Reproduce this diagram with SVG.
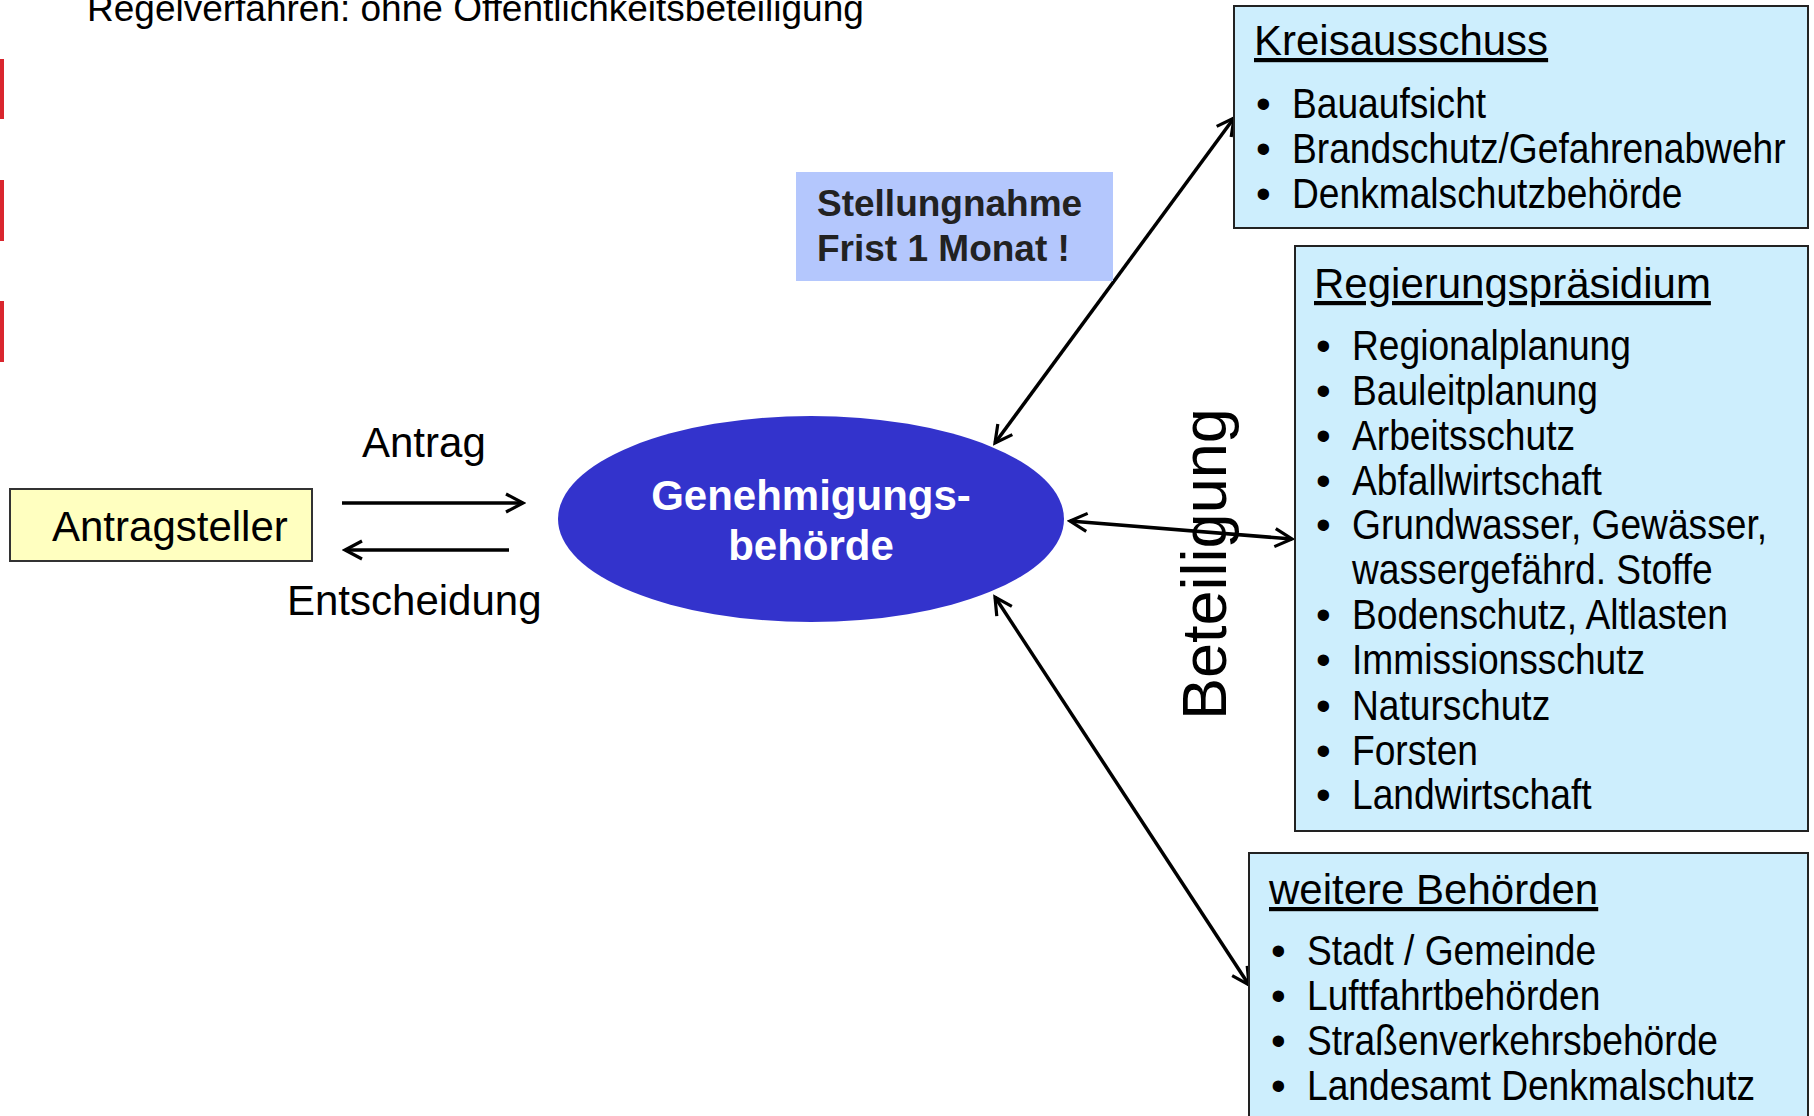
<svg xmlns="http://www.w3.org/2000/svg" width="1814" height="1116" viewBox="0 0 1814 1116">
<defs>
<style>
text{font-family:"Liberation Sans",Arial,sans-serif;fill:#000}
.t42{font-size:42px}
.box{fill:#cdeefd;stroke:#222;stroke-width:2}
.hd{font-size:42px;text-decoration:underline}
.con{stroke:#000;stroke-width:3.5;fill:none}
.red{fill:#d9262e}
</style>
<marker id="ah" viewBox="0 0 24 24" refX="21" refY="12" markerWidth="24" markerHeight="24" markerUnits="userSpaceOnUse" orient="auto-start-reverse">
<path d="M4,3 L21,12 L4,21" fill="none" stroke="#000" stroke-width="3.2"/>
</marker>
</defs>
<rect width="1814" height="1116" fill="#fff"/>
<text x="87" y="21" style="font-size:37px">Regelverfahren: ohne Öffentlichkeitsbeteiligung</text>
<rect class="red" x="0" y="59" width="4" height="60"/>
<rect class="red" x="0" y="180" width="4" height="61"/>
<rect class="red" x="0" y="301" width="4" height="61"/>

<g id="connectors">
<line class="con" x1="342" y1="503" x2="523" y2="503" marker-end="url(#ah)"/>
<line class="con" x1="509" y1="550" x2="345" y2="550" marker-end="url(#ah)"/>
<line class="con" x1="1234" y1="118" x2="995" y2="443" marker-start="url(#ah)" marker-end="url(#ah)"/>
<line class="con" x1="1070" y1="521" x2="1292" y2="539" marker-start="url(#ah)" marker-end="url(#ah)"/>
<line class="con" x1="995" y1="597" x2="1249" y2="985" marker-start="url(#ah)" marker-end="url(#ah)"/>
</g>
<text class="t42" x="362" y="457">Antrag</text>
<text class="t42" x="287" y="615">Entscheidung</text>

<g id="antragsteller">
<rect x="10" y="489" width="302" height="72" fill="#ffffc0" stroke="#333" stroke-width="2"/>
<text class="t42" x="52" y="541">Antragsteller</text>
</g>

<g id="genehmigungsbehoerde">
<ellipse cx="811" cy="519" rx="253" ry="103" fill="#3333cc"/>
<text x="811" y="510" text-anchor="middle" style="font-size:42px;font-weight:bold;fill:#fff">Genehmigungs-</text>
<text x="811" y="560" text-anchor="middle" style="font-size:42px;font-weight:bold;fill:#fff">behörde</text>
</g>

<g id="stellungnahme">
<rect x="796" y="172" width="317" height="109" fill="#b4c7fd"/>
<text x="817" y="216" style="font-size:37px;font-weight:bold;fill:#222">Stellungnahme</text>
<text x="817" y="261" style="font-size:37px;font-weight:bold;fill:#222">Frist 1 Monat !</text>
</g>

<g id="kreisausschuss">
<rect class="box" x="1234" y="6" width="574" height="222"/>
<text class="hd" x="1254" y="55">Kreisausschuss</text>
<g class="t42">
<text x="1256" y="118">•</text>
<text x="1256" y="163">•</text>
<text x="1256" y="208">•</text>
<g transform="matrix(0.885,0,0,1,148.6,0)">
<text x="1292" y="118">Bauaufsicht</text>
<text x="1292" y="163">Brandschutz/Gefahrenabwehr</text>
<text x="1292" y="208">Denkmalschutzbehörde</text>
</g>
</g>
</g>

<g id="regierungspraesidium">
<rect class="box" x="1295" y="246" width="513" height="585"/>
<text class="hd" x="1314" y="298">Regierungspräsidium</text>
<g class="t42">
<text x="1316" y="360">•</text>
<text x="1316" y="405">•</text>
<text x="1316" y="450">•</text>
<text x="1316" y="495">•</text>
<text x="1316" y="539">•</text>
<text x="1316" y="629">•</text>
<text x="1316" y="674">•</text>
<text x="1316" y="720">•</text>
<text x="1316" y="765">•</text>
<text x="1316" y="809">•</text>
<g transform="matrix(0.885,0,0,1,155.5,0)">
<text x="1352" y="360">Regionalplanung</text>
<text x="1352" y="405">Bauleitplanung</text>
<text x="1352" y="450">Arbeitsschutz</text>
<text x="1352" y="495">Abfallwirtschaft</text>
<text x="1352" y="539">Grundwasser, Gewässer,</text>
<text x="1352" y="584">wassergefährd. Stoffe</text>
<text x="1352" y="629">Bodenschutz, Altlasten</text>
<text x="1352" y="674">Immissionsschutz</text>
<text x="1352" y="720">Naturschutz</text>
<text x="1352" y="765">Forsten</text>
<text x="1352" y="809">Landwirtschaft</text>
</g>
</g>
</g>

<g id="weitere">
<rect class="box" x="1249" y="853" width="559" height="280"/>
<text class="hd" x="1269" y="904">weitere Behörden</text>
<g class="t42">
<text x="1271" y="965">•</text>
<text x="1271" y="1010">•</text>
<text x="1271" y="1055">•</text>
<text x="1271" y="1100">•</text>
<g transform="matrix(0.885,0,0,1,150.3,0)">
<text x="1307" y="965">Stadt / Gemeinde</text>
<text x="1307" y="1010">Luftfahrtbehörden</text>
<text x="1307" y="1055">Straßenverkehrsbehörde</text>
<text x="1307" y="1100">Landesamt Denkmalschutz</text>
</g>
</g>
</g>

<text transform="translate(1226,720) rotate(-90)" style="font-size:63px">Beteiligung</text>
</svg>
